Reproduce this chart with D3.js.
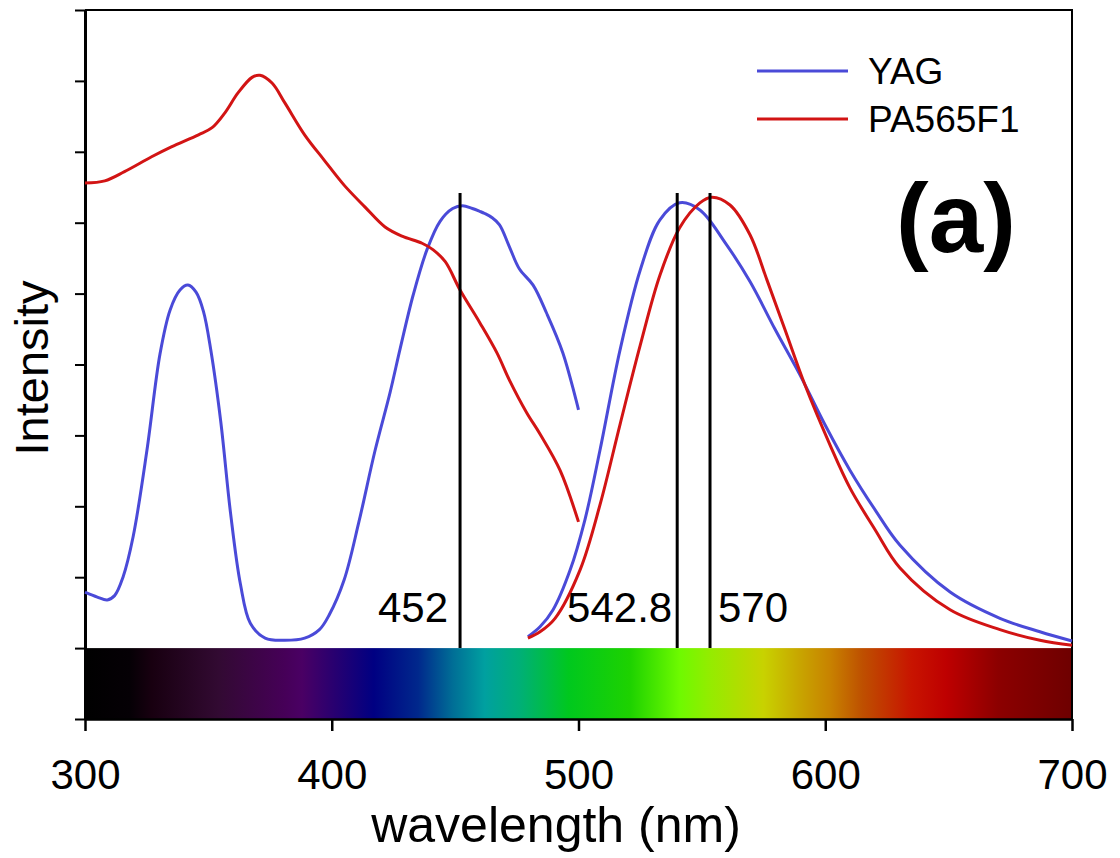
<!DOCTYPE html>
<html>
<head>
<meta charset="utf-8">
<script src="https://cdn.jsdelivr.net/npm/d3@7"></script>
<style>
  html, body { margin: 0; padding: 0; background: #ffffff; }
  svg { display: block; }
  text { font-family: "Liberation Sans", Arial, sans-serif; fill: #000; }
</style>
</head>
<body>
<svg id="chart" width="1120" height="858"></svg>
<script>
// ---------------- data ----------------
const xTicks = [300, 400, 500, 600, 700];
const yTicks = [0, 1, 2, 3, 4, 5, 6, 7, 8, 9, 10];

// YAG excitation (wavelength, intensity)
const yagExcWl = [300, 305, 309, 312, 315.4, 319.5, 325.1, 330.4, 334.5, 338.5, 341.7, 345, 348, 351, 355, 359, 363, 367, 373, 381, 389, 395, 399, 405, 411, 417.5, 423.6, 427.7, 433, 438.6, 443.9, 449, 453, 457, 460, 462, 465, 468, 472, 476, 481.6, 487, 493.7, 500];
const yagExcVal = [1.79, 1.72, 1.68, 1.74, 2.00, 2.57, 3.79, 5.15, 5.77, 6.05, 6.12, 6.02, 5.75, 5.20, 4.20, 2.90, 1.90, 1.35, 1.14, 1.11, 1.14, 1.26, 1.47, 1.96, 2.78, 3.78, 4.60, 5.22, 5.98, 6.62, 7.02, 7.20, 7.24, 7.20, 7.16, 7.13, 7.07, 6.97, 6.66, 6.35, 6.12, 5.73, 5.16, 4.36];

// YAG emission
const yagEmWl = [479.5, 484.4, 489.7, 496.6, 502.6, 508.7, 516.8, 525, 533, 541, 549.2, 559.4, 569.5, 579.6, 589.8, 599.9, 610, 620.2, 630.3, 650.6, 670.8, 687, 700];
const yagEmVal = [1.16, 1.30, 1.54, 2.10, 2.81, 3.79, 5.20, 6.33, 7.04, 7.28, 7.18, 6.72, 6.17, 5.50, 4.85, 4.15, 3.51, 2.95, 2.45, 1.79, 1.42, 1.23, 1.10];

// PA565F1 excitation
const paExcWl = [300, 308, 316, 327, 335, 346, 351.5, 356.7, 362, 367.7, 370.9, 375.8, 381, 389, 397, 405, 413.5, 421.6, 428.5, 436.6, 441, 446, 452, 460, 467, 472, 479, 484.4, 492.5, 500];
const paExcVal = [7.56, 7.59, 7.72, 7.93, 8.07, 8.24, 8.34, 8.55, 8.83, 9.05, 9.08, 8.97, 8.69, 8.24, 7.88, 7.53, 7.22, 6.94, 6.81, 6.71, 6.62, 6.45, 6.05, 5.59, 5.16, 4.78, 4.32, 4.02, 3.51, 2.78];

// PA565F1 emission
const paEmWl = [479.5, 484.4, 490.5, 500.6, 508.7, 516.8, 525, 533, 541, 549.2, 554, 561.4, 569.5, 576.4, 583.7, 591.8, 602, 610, 620.2, 630.3, 650.6, 670.8, 687, 700];
const paEmVal = [1.14, 1.23, 1.42, 2.10, 3.02, 4.15, 5.27, 6.26, 6.93, 7.28, 7.36, 7.25, 6.83, 6.19, 5.49, 4.71, 3.86, 3.26, 2.67, 2.13, 1.54, 1.26, 1.11, 1.04];

// marker lines and their labels
const markerWl = [452, 540, 553.3];
const markerTop = 7.42;
const markerLabels = ["452", "542.8", "570"];

// series names and colours
const seriesNames = ["YAG", "PA565F1"];
const seriesColors = ["#4a4ad8", "#d21414"];

// spectrum colour bar stops (wavelength, colour)
const specWl = [300, 318, 327, 354, 381, 388, 401, 417, 435, 449, 462, 476, 496, 521, 541, 554, 575, 588, 602, 615, 635, 649, 670, 700];
const specCol = ["#000000", "#050005", "#180010", "#320a32", "#460058", "#4a0064", "#280070", "#000082", "#00288c", "#006e96", "#00a0a0", "#00af78", "#00c81e", "#1ed200", "#6efa00", "#96eb00", "#c8d200", "#c8aa00", "#c88200", "#be5000", "#c81400", "#be0000", "#8c0000", "#6e0000"];

// ---------------- drawing ----------------
const svg = d3.select("#chart");
const L = 85, R = 1072, T = 10, B = 719;
const x = d3.scaleLinear().domain([300, 700]).range([L, R]);
const y = d3.scaleLinear().domain([0, 10]).range([B, T]);

// colour bar
const defs = svg.append("defs");
const grad = defs.append("linearGradient").attr("id", "spec").attr("x1", "0%").attr("x2", "100%").attr("y1", "0%").attr("y2", "0%");
specWl.forEach((w, i) => {
  grad.append("stop").attr("offset", ((x(w) - L) / (R - L) * 100) + "%").attr("stop-color", specCol[i]);
});
svg.append("rect").attr("x", x(300)).attr("y", y(1)).attr("width", x(700) - x(300)).attr("height", y(0) - y(1)).attr("fill", "url(#spec)");

// frame (top and right)
svg.append("path").attr("d", `M${L},${T}H${R}V${B}`).attr("fill", "none").attr("stroke", "#000").attr("stroke-width", 2);

// axes
const xAxis = d3.axisBottom(x).tickValues(xTicks).tickSize(12).tickPadding(28).tickSizeOuter(0);
const gx = svg.append("g").attr("transform", `translate(0,${B})`).call(xAxis);
gx.select(".domain").attr("stroke-width", 2.5);
gx.selectAll(".tick line").attr("stroke-width", 2.5);
gx.selectAll(".tick text").attr("font-size", 42).attr("font-family", "Liberation Sans, Arial, sans-serif").attr("fill", "#000");

const yAxis = d3.axisLeft(y).tickValues(yTicks).tickSize(10).tickFormat("").tickSizeOuter(0);
const gy = svg.append("g").attr("transform", `translate(${L},0)`).call(yAxis);
gy.select(".domain").attr("stroke-width", 3);
gy.selectAll(".tick line").attr("stroke-width", 2);

// axis titles
svg.append("text").attr("x", 556).attr("y", 842).attr("text-anchor", "middle").attr("font-size", 50).text("wavelength (nm)");
svg.append("text").attr("transform", "translate(48,368) rotate(-90)").attr("text-anchor", "middle").attr("font-size", 47).text("Intensity");

// curves
const line = d3.line().x(d => x(d[0])).y(d => y(d[1])).curve(d3.curveCatmullRom.alpha(0.5));
const zip = (a, b) => a.map((v, i) => [v, b[i]]);
const curves = [
  { d: zip(yagExcWl, yagExcVal), c: seriesColors[0] },
  { d: zip(yagEmWl, yagEmVal), c: seriesColors[0] },
  { d: zip(paExcWl, paExcVal), c: seriesColors[1] },
  { d: zip(paEmWl, paEmVal), c: seriesColors[1] }
];
svg.append("g").selectAll("path").data(curves).join("path")
  .attr("d", d => line(d.d)).attr("fill", "none").attr("stroke", d => d.c).attr("stroke-width", 3).attr("stroke-linejoin", "round");

// marker lines
svg.append("g").selectAll("line").data(markerWl).join("line")
  .attr("x1", d => x(d)).attr("x2", d => x(d)).attr("y1", y(markerTop)).attr("y2", y(1))
  .attr("stroke", "#000").attr("stroke-width", 3);

// marker labels
const labelPos = [
  { x: x(markerWl[0]) - 12, anchor: "end" },
  { x: x(markerWl[1]) - 5, anchor: "end" },
  { x: x(markerWl[2]) + 8, anchor: "start" }
];
svg.append("g").selectAll("text").data(markerLabels).join("text")
  .attr("x", (d, i) => labelPos[i].x).attr("y", 622).attr("text-anchor", (d, i) => labelPos[i].anchor)
  .attr("font-size", 42).text(d => d);

// legend
const leg = svg.append("g");
seriesNames.forEach((n, i) => {
  const ly = 71 + i * 48;
  leg.append("line").attr("x1", 757).attr("x2", 848).attr("y1", ly).attr("y2", ly).attr("stroke", seriesColors[i]).attr("stroke-width", 3);
  leg.append("text").attr("x", 868).attr("y", ly + 13).attr("font-size", 37).text(n);
});

// panel label
svg.append("text").attr("x", 956).attr("y", 252).attr("text-anchor", "middle")
  .attr("font-family", "'Open Sans', 'DejaVu Sans', sans-serif").attr("font-weight", "bold").attr("font-size", 98).text("(a)");
</script>
</body>
</html>
